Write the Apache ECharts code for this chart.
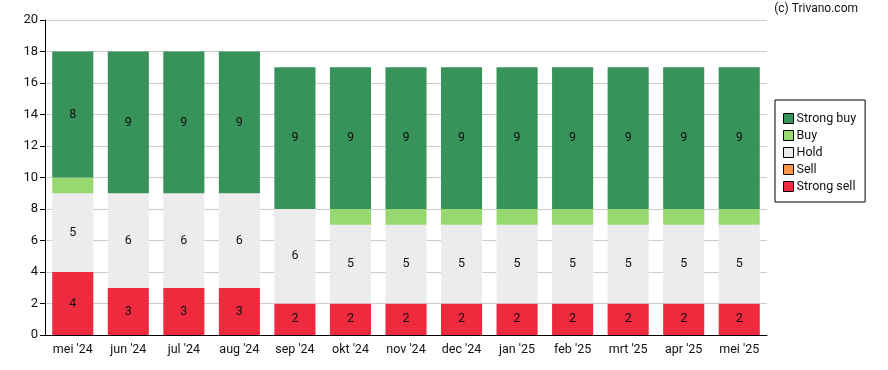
<!DOCTYPE html>
<html><head><meta charset="utf-8">
<script src="https://cdn.jsdelivr.net/npm/echarts@6/dist/echarts.min.js"></script>
<style>html,body{margin:0;padding:0;background:#fff}#c{width:888px;height:370px}</style>
</head><body><div id="c"></div>
<script>
const categories = ["mei '24","jun '24","jul '24","aug '24","sep '24","okt '24","nov '24","dec '24","jan '25","feb '25","mrt '25","apr '25","mei '25"];
const strongSell = [4,3,3,3,2,2,2,2,2,2,2,2,2];
const sell = [0,0,0,0,0,0,0,0,0,0,0,0,0];
const hold = [5,6,6,6,6,5,5,5,5,5,5,5,5];
const buy = [1,0,0,0,0,1,1,1,1,1,1,1,1];
const strongBuy = [8,9,9,9,9,9,9,9,9,9,9,9,9];
const yTicks = [0,2,4,6,8,10,12,14,16,18,20];

const FONT = 'Roboto';
function mk(name, data, color){
  return {
    name, type:'bar', stack:'a', data, barWidth:'74%',
    itemStyle:{color},
    label:{show:true, position:'inside', color:'#111', fontFamily:FONT, fontSize:12.5,
      formatter:p=> p.value>=2 ? String(p.value) : ''},
    emphasis:{disabled:true}
  };
}
const chart = echarts.init(document.getElementById('c'));
chart.setOption({
  animation:false,
  textStyle:{fontFamily:FONT},
  grid:{left:45,right:121,top:20,bottom:35,containLabel:false},
  graphic:[{type:'text',right:30,top:3,style:{text:'(c) Trivano.com',font:'12px Roboto',fill:'#111'}}],
  legend:{
    orient:'vertical', left:775, top:100,
    data:['Strong buy','Buy','Hold','Sell','Strong sell'],
    borderColor:'#000', borderWidth:1, padding:[12,9,9,8],
    itemWidth:10, itemHeight:10, itemGap:4,
    icon:'rect',
    itemStyle:{borderColor:'#000',borderWidth:1},
    textStyle:{fontSize:12.5,color:'#111',fontFamily:FONT,padding:[0,0,0,-2]},
    selectedMode:false
  },
  xAxis:{
    type:'category', data:categories,
    axisLine:{lineStyle:{color:'#000'}},
    axisTick:{alignWithLabel:true,length:5,lineStyle:{color:'#000'}},
    axisLabel:{color:'#111',fontSize:12.5,fontFamily:FONT,margin:8}
  },
  yAxis:{
    type:'value', min:yTicks[0], max:yTicks[yTicks.length-1], interval:2,
    axisLine:{show:true,lineStyle:{color:'#000'}},
    axisTick:{show:true,length:5,lineStyle:{color:'#000'}},
    axisLabel:{color:'#111',fontSize:13,fontFamily:FONT,margin:7},
    splitLine:{lineStyle:{color:'#ccc'}}
  },
  series:[
    mk('Strong sell', strongSell, '#ee2b3e'),
    mk('Sell', sell, '#f79646'),
    mk('Hold', hold, '#ececec'),
    mk('Buy', buy, '#98d871'),
    mk('Strong buy', strongBuy, '#37935a')
  ]
});
</script></body></html>
